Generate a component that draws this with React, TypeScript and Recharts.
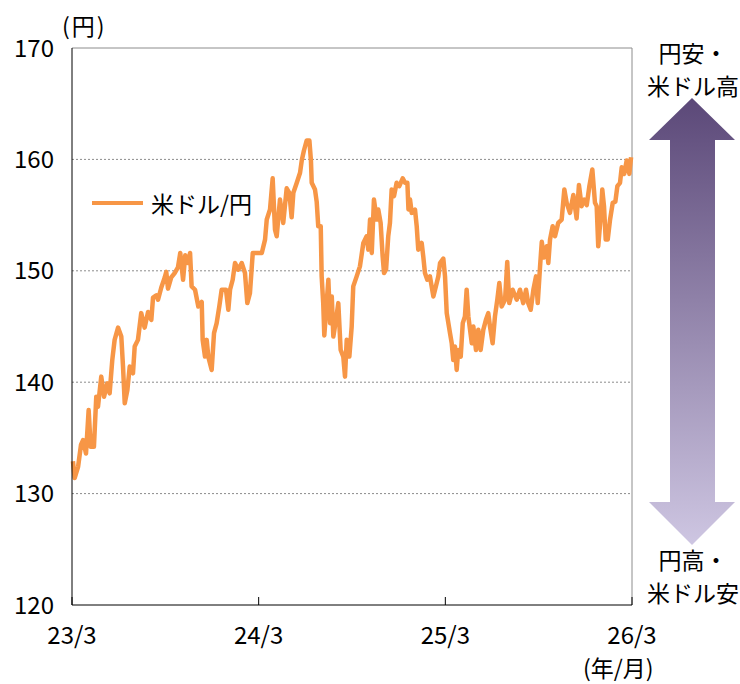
import React from "react";
import {
  LineChart,
  Line,
  XAxis,
  YAxis,
  ReferenceLine,
  Legend,
} from "recharts";

// months since 2023/3 (x position) and USD/JPY (円)
const months = [
  0.06, 0.17, 0.39, 0.58, 0.71, 0.9, 1.07, 1.2, 1.41, 1.56,
  1.67, 1.88, 2.06, 2.27, 2.42, 2.59, 2.74, 2.96, 3.17, 3.28,
  3.39, 3.56, 3.71, 3.92, 4.03, 4.24, 4.45, 4.67, 4.89, 5.1,
  5.21, 5.42, 5.53, 5.74, 5.96, 6.06, 6.17, 6.38, 6.6, 6.81,
  6.96, 7.14, 7.28, 7.46, 7.59, 7.69, 7.91, 8.12, 8.34, 8.4,
  8.55, 8.66, 8.76, 8.98, 9.13, 9.3, 9.47, 9.62, 9.9, 10.05,
  10.16, 10.33, 10.48, 10.69, 10.91, 11.12, 11.27, 11.44, 11.62, 11.87,
  12.2, 12.41, 12.52, 12.73, 12.9, 13.05, 13.16, 13.37, 13.58, 13.8,
  13.97, 14.12, 14.23, 14.45, 14.66, 14.77, 14.91, 15.09, 15.26, 15.36,
  15.41, 15.62, 15.73, 15.83, 15.99, 16.05, 16.15, 16.22, 16.37, 16.48,
  16.59, 16.7, 16.8, 16.97, 17.12, 17.27, 17.44, 17.55, 17.66, 17.83,
  17.98, 18.08, 18.3, 18.51, 18.73, 18.94, 19.05, 19.16, 19.27, 19.41,
  19.59, 19.69, 19.84, 19.97, 20.06, 20.19, 20.33, 20.44, 20.55, 20.7,
  20.87, 21.04, 21.26, 21.41, 21.56, 21.63, 21.73, 21.84, 22.05, 22.16,
  22.26, 22.48, 22.58, 22.69, 22.84, 23.01, 23.23, 23.34, 23.55, 23.66,
  23.87, 23.98, 24.09, 24.3, 24.41, 24.51, 24.62, 24.73, 24.83, 24.99,
  25.12, 25.26, 25.37, 25.48, 25.7, 25.8, 25.97, 26.12, 26.27, 26.44,
  26.61, 26.76, 26.87, 27.04, 27.19, 27.34, 27.47, 27.62, 27.84, 27.98,
  28.11, 28.33, 28.59, 28.8, 29.01, 29.19, 29.33, 29.49, 29.66, 29.83,
  29.94, 30.09, 30.2, 30.34, 30.52, 30.62, 30.73, 30.9, 31.05, 31.26,
  31.48, 31.65, 31.8, 32.01, 32.23, 32.44, 32.59, 32.76, 32.93, 33.09,
  33.26, 33.45, 33.62, 33.73, 33.83, 33.99, 34.09, 34.2, 34.31, 34.44,
  34.59, 34.76, 34.93, 35.06, 35.23, 35.34, 35.5, 35.66, 35.83, 35.94,
];

const usdJpy = [
  132.9, 131.4, 132.4, 134.4, 134.8, 133.6, 137.5, 134.2, 134.2, 138.7,
  137.8, 140.5, 138.7, 139.9, 139.0, 142.0, 143.8, 144.9, 144.1, 141.4,
  138.1, 139.3, 141.4, 140.8, 143.2, 143.8, 146.2, 144.9, 146.3, 145.6,
  147.6, 147.8, 147.4, 148.5, 149.4, 149.9, 148.4, 149.4, 149.8, 150.3,
  151.6, 149.2, 151.4, 150.7, 151.6, 148.6, 148.3, 146.8, 147.2, 143.8,
  142.3, 143.8, 142.3, 141.1, 144.4, 145.3, 146.8, 148.3, 148.3, 146.5,
  148.3, 149.2, 150.7, 150.1, 150.7, 149.8, 147.1, 148.0, 151.6, 151.6,
  151.6, 152.8, 154.6, 155.5, 158.3, 153.7, 153.1, 156.4, 154.3, 157.4,
  157.0, 154.8, 157.0, 157.9, 158.8, 159.9, 160.8, 161.7, 161.7, 159.9,
  157.9, 157.3, 156.2, 154.0, 154.0, 149.5, 147.1, 144.2, 147.1, 149.2,
  145.3, 147.7, 144.1, 145.6, 147.1, 142.9, 142.3, 140.5, 143.8, 142.3,
  145.0, 148.6, 149.5, 150.4, 152.5, 153.1, 151.9, 154.6, 151.6, 156.4,
  154.6, 155.5, 154.3, 151.3, 149.8, 150.1, 153.1, 154.3, 157.3, 156.7,
  157.9, 157.6, 158.3, 157.9, 157.9, 155.5, 156.4, 155.2, 155.5, 154.0,
  151.9, 152.5, 151.3, 149.8, 149.2, 149.5, 147.7, 148.3, 149.5, 150.7,
  151.1, 149.5, 146.2, 144.4, 143.5, 142.0, 143.2, 141.1, 142.9, 142.3,
  145.3, 145.9, 148.3, 145.9, 143.5, 145.0, 142.9, 144.7, 142.9, 144.7,
  145.6, 146.2, 145.0, 143.5, 145.9, 147.4, 148.9, 146.8, 147.4, 150.8,
  147.1, 148.3, 147.4, 148.3, 147.1, 148.3, 147.1, 146.5, 148.3, 149.5,
  147.1, 150.4, 152.6, 151.2, 152.2, 150.7, 152.8, 154.0, 153.1, 154.3,
  154.6, 157.3, 156.1, 155.2, 156.8, 154.7, 157.7, 155.8, 156.4, 155.9,
  157.6, 159.1, 156.1, 155.8, 152.2, 154.9, 157.3, 155.8, 152.8, 152.8,
  154.6, 156.1, 156.2, 157.6, 157.9, 159.3, 158.7, 159.9, 158.7, 160.2,
];

const xTicks = [0, 12, 24, 36];
const xTickLabels = ["23/3", "24/3", "25/3", "26/3"];
const yTicks = [120, 130, 140, 150, 160, 170];
const gridValues = [130, 140, 150, 160];
const seriesName = "米ドル/円";

const data = months.map((m, i) => ({ m, value: usdJpy[i] }));

const FONT = "'Noto Sans CJK JP', 'Noto Sans', sans-serif";
const LINE_COLOR = "#F79646";

function LegendBox() {
  return (
    <div style={{ display: "flex", alignItems: "center", fontFamily: FONT, fontSize: 23, color: "#000" }}>
      <div style={{ width: 51, height: 4, background: LINE_COLOR, marginRight: 8 }} />
      <span>{seriesName}</span>
    </div>
  );
}

export default function App() {
  return (
    <div style={{ position: "relative", width: 740, height: 684, fontFamily: FONT, color: "#000" }}>
      <style>{`body{margin:0}`}</style>
      <LineChart width={740} height={684} data={data} margin={{ top: 48, right: 108, bottom: 0, left: 0 }}>
        <XAxis
          dataKey="m"
          type="number"
          domain={[0, 36]}
          ticks={xTicks}
          tickFormatter={(v: number) => xTickLabels[xTicks.indexOf(v)] ?? ""}
          height={79}
          stroke="#000"
          tickSize={-8}
          tickMargin={30}
          tick={{ fontSize: 24, fill: "#000", fontFamily: FONT }}
          interval={0}
        />
        <YAxis
          type="number"
          domain={[120, 170]}
          ticks={yTicks}
          width={72}
          stroke="#000"
          tickLine={false}
          tickSize={0}
          tickMargin={18}
          tick={{ fontSize: 24, fill: "#000", fontFamily: FONT }}
          interval={0}
        />
        {gridValues.map((g) => (
          <ReferenceLine key={g} y={g} stroke="#8c8c8c" strokeDasharray="2 2" />
        ))}
        <ReferenceLine y={170} stroke="#8c8c8c" />
        <ReferenceLine x={36} stroke="#8c8c8c" />
        <Legend
          layout="horizontal"
          verticalAlign="middle"
          align="center"
          content={() => <LegendBox />}
          wrapperStyle={{ position: "absolute", left: 92, top: 186, width: "auto" }}
        />
        <Line
          type="linear"
          dataKey="value"
          name={seriesName}
          stroke={LINE_COLOR}
          strokeWidth={4.5}
          strokeLinejoin="round"
          dot={false}
          activeDot={false}
          isAnimationActive={false}
        />
      </LineChart>

      <div style={{ position: "absolute", left: 62, top: 8, fontSize: 23, letterSpacing: 2 }}>(円)</div>
      <div style={{ position: "absolute", left: 583, top: 650, fontSize: 23 }}>(年/月)</div>

      <svg width={740} height={684} style={{ position: "absolute", left: 0, top: 0, pointerEvents: "none" }}>
        <defs>
          <linearGradient id="arrowGrad" x1="0" y1="0" x2="0" y2="1">
            <stop offset="0%" stopColor="#5B4878" />
            <stop offset="100%" stopColor="#CEC6E2" />
          </linearGradient>
        </defs>
        <polygon
          points="692,98 735,140 715,140 715,502 735,502 692,545 649,502 670,502 670,140 649,140"
          fill="url(#arrowGrad)"
        />
      </svg>
      <div style={{ position: "absolute", left: 640, top: 36, width: 106, textAlign: "center", fontSize: 23, lineHeight: "33px" }}>
        円安・<br />米ドル高
      </div>
      <div style={{ position: "absolute", left: 640, top: 543, width: 106, textAlign: "center", fontSize: 23, lineHeight: "33px" }}>
        円高・<br />米ドル安
      </div>
    </div>
  );
}
